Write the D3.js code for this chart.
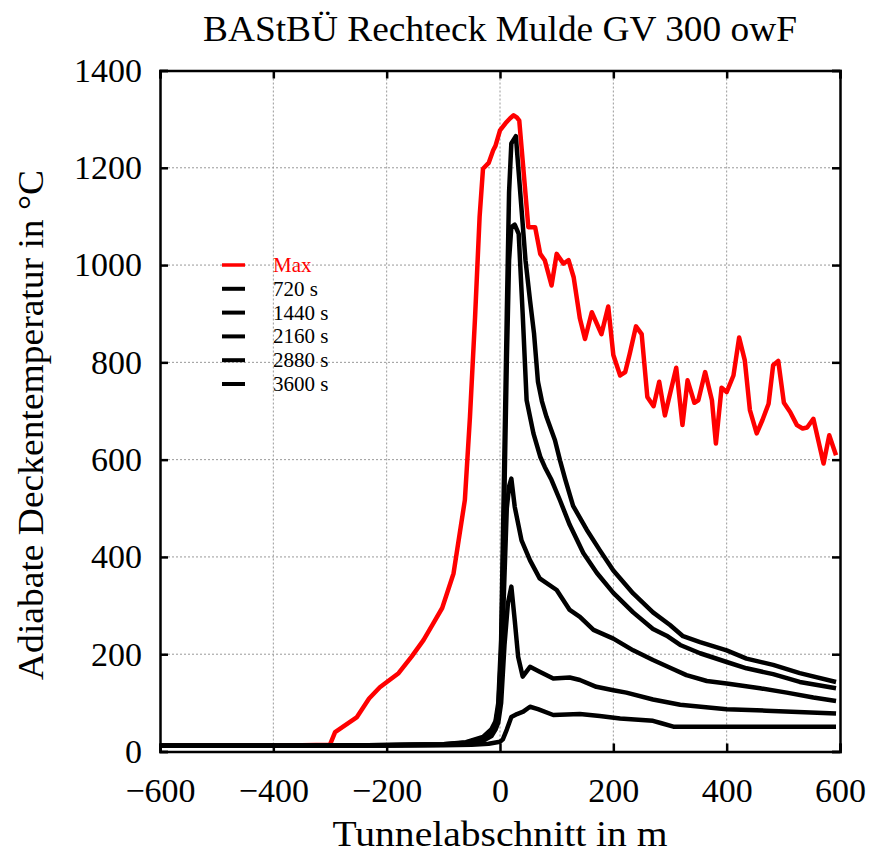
<!DOCTYPE html>
<html><head><meta charset="utf-8">
<script src="https://cdn.jsdelivr.net/npm/d3@7"></script>
<style>body{margin:0;background:#fff}svg{display:block}</style>
</head><body><svg id="c" width="871" height="857"></svg>
<script>
const title = "BAStBÜ Rechteck Mulde GV 300 owF";
const xLabel = "Tunnelabschnitt in m";
const yLabel = "Adiabate Deckentemperatur in °C";
const xTicks = [-600,-400,-200,0,200,400,600];
const yTicks = [0,200,400,600,800,1000,1200,1400];
const seriesNames = ["Max","720 s","1440 s","2160 s","2880 s","3600 s"];
const seriesColors = ["#ff0000","#000","#000","#000","#000","#000"];

const maxData = [[-600,12],[-500,12],[-400,12],[-300,14],[-291,40],[-253,70],[-231,109],[-212,132],[-179,161],[-156,195],[-135,229],[-118,263],[-102,295],[-82,366],[-62,517],[-53,688],[-44,893],[-36,1099],[-30,1198],[-20,1210],[-12,1236],[-8,1245],[0,1277],[10,1292],[18,1302],[24,1308],[30,1303],[34,1297],[50,1078],[62,1078],[71,1023],[79,1010],[91,958],[100,1023],[112,1003],[121,1010],[130,975],[141,890],[150,848],[162,903],[179,858],[191,915],[200,815],[212,773],[221,780],[229,818],[240,874],[250,858],[260,729],[271,710],[281,760],[291,691],[311,789],[322,671],[331,763],[343,717],[350,722],[362,780],[374,722],[381,633],[391,748],[400,739],[412,773],[422,851],[432,804],[441,702],[453,654],[463,681],[474,715],[482,794],[491,803],[501,717],[512,698],[524,671],[534,664],[542,666],[553,684],[571,592],[581,650],[593,609]];

const s720 = [[-600,12],[-300,12],[-100,13],[-50,14],[-20,16],[0,20],[5,25],[12,45],[20,71],[30,77],[41,82],[53,92],[67,87],[94,75],[141,77],[176,73],[212,68],[270,63],[285,58],[306,51],[412,51],[593,51]];
const s1440 = [[-600,12],[-300,12],[-100,14],[-60,16],[-30,22],[-15,32],[-8,45],[-3,60],[2,100],[8,220],[14,305],[20,339],[26,270],[32,195],[40,154],[53,174],[70,164],[94,150],[123,152],[141,147],[170,133],[200,126],[223,121],[270,107],[318,96],[400,87],[470,84],[593,78]];
const s2160 = [[-600,12],[-300,12],[-100,14],[-60,17],[-30,25],[-15,38],[-8,52],[-3,75],[2,160],[7,330],[12,500],[16,545],[20,561],[26,503],[38,434],[53,393],[70,356],[100,332],[123,291],[141,277],[165,250],[200,232],[235,208],[270,188],[306,169],[329,157],[365,145],[400,140],[459,130],[506,121],[553,111],[593,104]];
const s2880 = [[-600,12],[-300,12],[-100,15],[-60,18],[-30,28],[-15,42],[-8,58],[-3,90],[2,200],[7,480],[12,800],[16,1010],[20,1078],[26,1083],[33,1064],[40,900],[47,722],[59,654],[71,606],[79,585],[91,558],[106,516],[123,466],[147,408],[171,367],[200,326],[235,286],[270,252],[294,238],[318,219],[353,202],[400,184],[435,171],[482,159],[529,143],[593,130]];
const s3600 = [[-600,12],[-300,12],[-100,15],[-60,19],[-30,30],[-15,46],[-8,62],[-3,100],[2,230],[7,560],[12,900],[16,1150],[20,1250],[28,1265],[33,1190],[45,1010],[53,927],[60,860],[67,760],[74,720],[82,688],[97,640],[106,598],[115,560],[129,505],[153,456],[176,414],[200,372],[235,325],[270,286],[300,260],[323,237],[353,225],[400,208],[435,191],[482,178],[529,161],[593,143]];
const seriesData = [maxData,s720,s1440,s2160,s2880,s3600];

const svg = d3.select("#c");
const L=160,R=840,T=70.5,B=751.5;
const x = d3.scaleLinear().domain([-600,600]).range([L,R]);
const y = d3.scaleLinear().domain([0,1400]).range([B,T]);
const font = "'Liberation Serif', 'Times New Roman', serif";

// grid
const g = svg.append("g");
g.selectAll("line.gx").data(xTicks.slice(1,-1)).enter().append("line")
 .attr("x1",d=>x(d)).attr("x2",d=>x(d)).attr("y1",T).attr("y2",B)
 .attr("stroke","#999").attr("stroke-width",1).attr("stroke-dasharray","2,2");
g.selectAll("line.gy").data(yTicks.slice(1,-1)).enter().append("line")
 .attr("y1",d=>y(d)).attr("y2",d=>y(d)).attr("x1",L).attr("x2",R)
 .attr("stroke","#999").attr("stroke-width",1).attr("stroke-dasharray","2,2");

const line = d3.line().x(d=>x(d[0])).y(d=>y(d[1]));
svg.append("clipPath").attr("id","cp").append("rect").attr("x",L).attr("y",T).attr("width",R-L).attr("height",B-T);
svg.append("g").attr("clip-path","url(#cp)").selectAll("path").data(seriesData).enter().append("path")
 .attr("d",d=>line(d)).attr("fill","none")
 .attr("stroke",(d,i)=>seriesColors[i]).attr("stroke-width",4.5).attr("stroke-linejoin","round");

// axes
const axB = d3.axisBottom(x).tickValues(xTicks).tickSize(-8).tickPadding(26).tickFormat(d=>d<0?"\u2212"+Math.abs(d):String(d));
const axL = d3.axisLeft(y).tickValues(yTicks).tickSize(-8).tickPadding(18).tickFormat(d=>d);
const axT = d3.axisTop(x).tickValues(xTicks).tickSize(-8).tickFormat("");
const axR = d3.axisRight(y).tickValues(yTicks).tickSize(-8).tickFormat("");
function style(sel){
  sel.select(".domain").attr("stroke","#000").attr("stroke-width",2.5);
  sel.selectAll(".tick line").attr("stroke","#000").attr("stroke-width",2.5);
  sel.selectAll(".tick text").attr("font-family",font).attr("font-size",34).attr("fill","#000");
}
svg.append("g").attr("transform",`translate(0,${B})`).call(axB).call(style);
svg.append("g").attr("transform",`translate(${L},0)`).call(axL).call(style);
svg.append("g").attr("transform",`translate(0,${T})`).call(axT).call(style);
svg.append("g").attr("transform",`translate(${R},0)`).call(axR).call(style);

// titles
svg.append("text").attr("x",500).attr("y",41).attr("text-anchor","middle").attr("font-family",font).attr("font-size",36)
  .attr("textLength",594).attr("lengthAdjust","spacingAndGlyphs").text(title);
svg.append("text").attr("x",500).attr("y",846).attr("text-anchor","middle").attr("font-family",font).attr("font-size",36)
  .attr("textLength",335).attr("lengthAdjust","spacingAndGlyphs").text(xLabel);
svg.append("text").attr("transform","translate(43,425) rotate(-90)").attr("text-anchor","middle").attr("font-family",font).attr("font-size",36)
  .attr("textLength",510).attr("lengthAdjust","spacingAndGlyphs").text(yLabel);

// legend
const lg = svg.append("g");
seriesNames.forEach((n,i)=>{
  const yy = 265 + i*23.8;
  lg.append("line").attr("x1",222).attr("x2",245).attr("y1",yy).attr("y2",yy)
    .attr("stroke",seriesColors[i]).attr("stroke-width",i===0?3.5:4);
  lg.append("text").attr("x",273).attr("y",yy+7).attr("font-family",font).attr("font-size",21)
    .attr("fill",seriesColors[i]).text(n);
});
</script></body></html>
